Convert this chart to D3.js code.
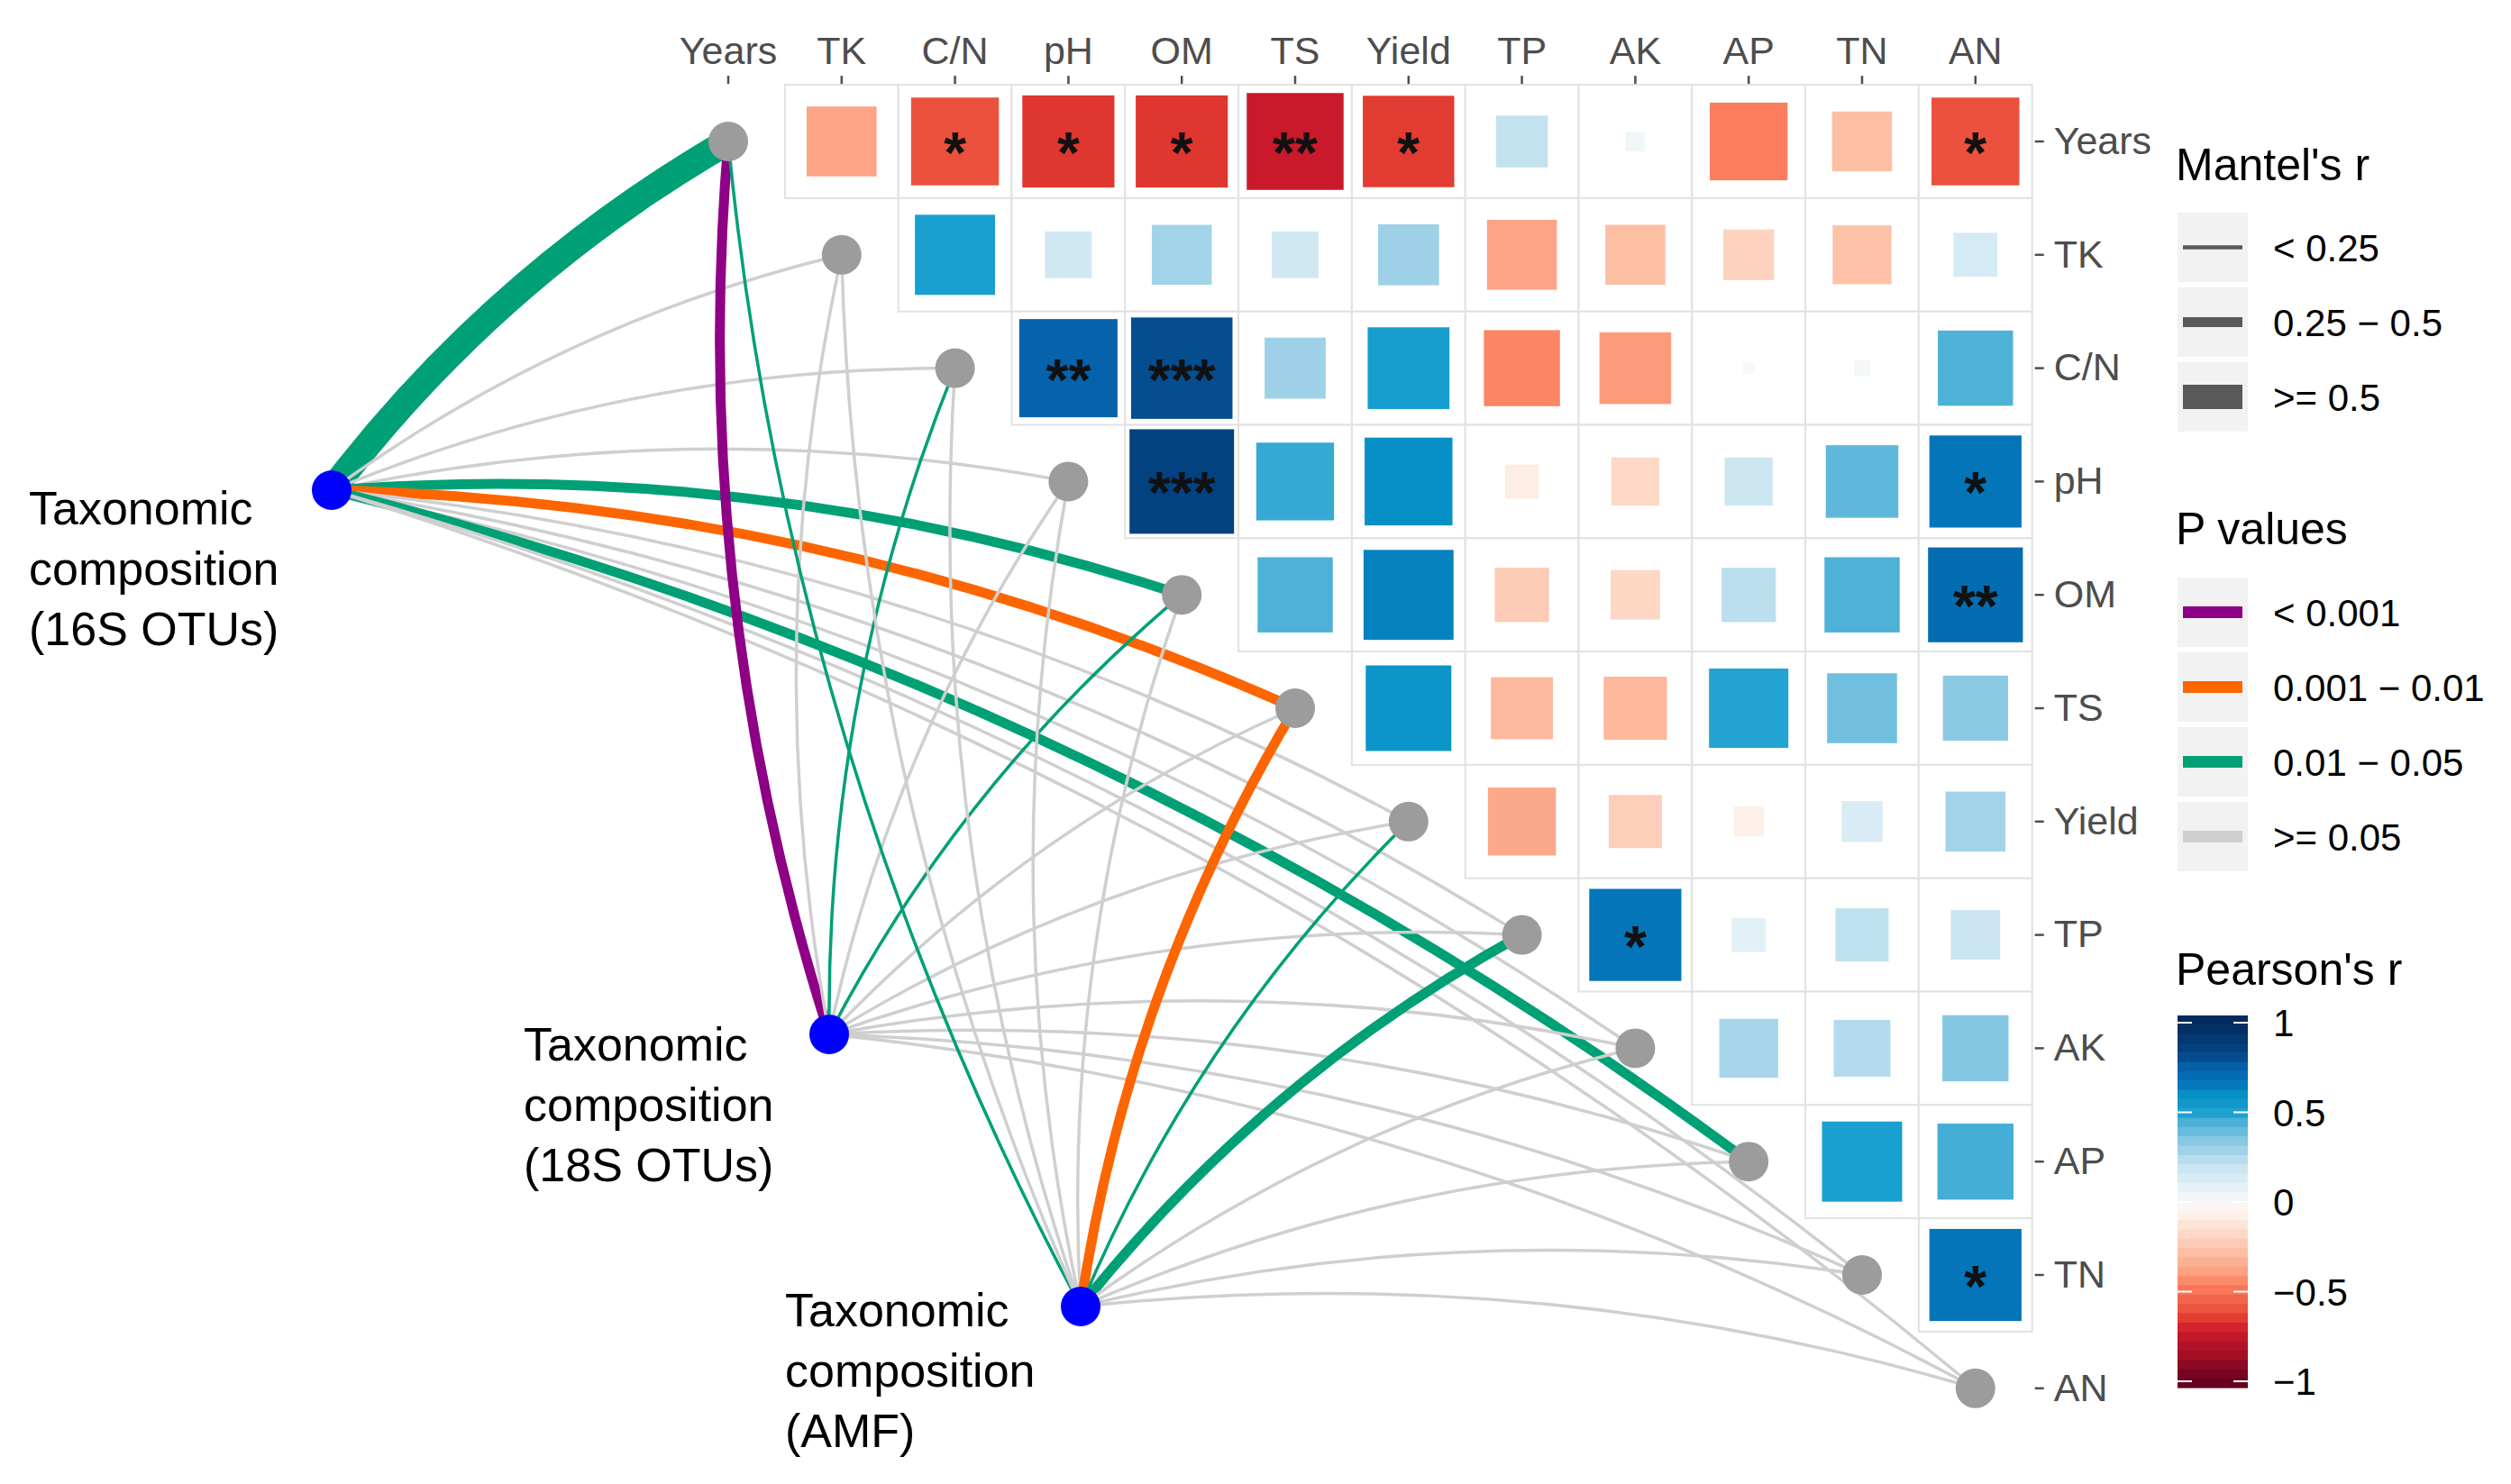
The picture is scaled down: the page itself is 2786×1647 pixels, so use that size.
<!DOCTYPE html>
<meta charset="UTF-8">
<style>
body { margin: 0; background: #fff; }
text { font-family: "Liberation Sans", Arial, sans-serif; }
.axis text { fill: #4d4d4d; font-size: 43px; }
.axis line { stroke: #4d4d4d; stroke-width: 2.5px; }
.grid rect { fill: #fff; stroke: #e2e2e2; stroke-width: 2px; }
.star { font-size: 64px; fill: #111; text-anchor: middle; font-weight: bold; }
.src-label { font-size: 52px; fill: #000; }
.leg-title { font-size: 50px; fill: #000; }
.leg-text { font-size: 42px; fill: #000; }
</style>
<body>
<script src="https://d3js.org/d3.v7.min.js"></script>
<script>

// environmental variables (rows / columns of the triangle)
var vars = ["Years", "TK", "C/N", "pH", "OM", "TS", "Yield", "TP", "AK", "AP", "TN", "AN"];

// Pearson's r, upper triangle, each row holds the columns to the right of the diagonal
var rYears = [-0.38, -0.60, -0.66, -0.66, -0.73, -0.65, 0.21, 0.03, -0.47, -0.28, -0.60];
var rTK    = [0.50, 0.17, 0.28, 0.17, 0.29, -0.38, -0.28, -0.20, -0.27, 0.15];
var rCN    = [0.75, 0.80, 0.29, 0.52, -0.45, -0.40, 0.01, 0.02, 0.44];
var rPH    = [0.85, 0.47, 0.60, -0.09, -0.18, 0.18, 0.41, 0.66];
var rOM    = [0.44, 0.63, -0.23, -0.19, 0.23, 0.44, 0.70];
var rTS    = [0.57, -0.30, -0.31, 0.49, 0.38, 0.33];
var rYield = [-0.36, -0.22, -0.07, 0.13, 0.28];
var rTP    = [0.66, 0.09, 0.22, 0.19];
var rAK    = [0.27, 0.25, 0.34];
var rAP    = [0.50, 0.45];
var rTN    = [0.66];

// significance marks for the same cells
var sigYears = ["", "*", "*", "*", "**", "*", "", "", "", "", "*"];
var sigTK    = ["", "", "", "", "", "", "", "", "", ""];
var sigCN    = ["**", "***", "", "", "", "", "", "", ""];
var sigPH    = ["***", "", "", "", "", "", "", "*"];
var sigOM    = ["", "", "", "", "", "", "**"];
var sigTS    = ["", "", "", "", "", ""];
var sigYield = ["", "", "", "", ""];
var sigTP    = ["*", "", "", ""];
var sigAK    = ["", "", ""];
var sigAP    = ["", ""];
var sigTN    = ["*"];

var corrRows = [rYears, rTK, rCN, rPH, rOM, rTS, rYield, rTP, rAK, rAP, rTN];
var sigRows  = [sigYears, sigTK, sigCN, sigPH, sigOM, sigTS, sigYield, sigTP, sigAK, sigAP, sigTN];

// Mantel tests: one value per environmental variable (same order as vars)
var mantelR16S = [0.55, 0.10, 0.12, 0.10, 0.30, 0.35, 0.10, 0.15, 0.10, 0.30, 0.10, 0.10];
var mantelP16S = [0.020, 0.30, 0.20, 0.30, 0.030, 0.005, 0.40, 0.20, 0.50, 0.040, 0.30, 0.40];
var mantelR18S = [0.40, 0.10, 0.15, 0.10, 0.20, 0.10, 0.10, 0.10, 0.10, 0.10, 0.10, 0.10];
var mantelP18S = [0.0008, 0.30, 0.030, 0.30, 0.040, 0.30, 0.50, 0.30, 0.50, 0.40, 0.60, 0.50];
var mantelRAMF = [0.20, 0.10, 0.10, 0.10, 0.10, 0.30, 0.20, 0.35, 0.10, 0.10, 0.10, 0.10];
var mantelPAMF = [0.030, 0.30, 0.40, 0.30, 0.20, 0.006, 0.040, 0.020, 0.30, 0.50, 0.40, 0.30];

var mantelR = [mantelR16S, mantelR18S, mantelRAMF];
var mantelP = [mantelP16S, mantelP18S, mantelPAMF];

var srcLines = [
  ["Taxonomic", "composition", "(16S OTUs)"],
  ["Taxonomic", "composition", "(18S OTUs)"],
  ["Taxonomic", "composition", "(AMF)"]
];

// legend texts
var mantelLabels = ["< 0.25", "0.25 \u2212 0.5", ">= 0.5"];
var pLabels = ["< 0.001", "0.001 \u2212 0.01", "0.01 \u2212 0.05", ">= 0.05"];
var cbarTicks = [1, 0.5, 0, -0.5, -1];

// ---------------- layout ----------------
var W = 2786, H = 1647;
var cell = 125.8;
var x0 = 808 - cell / 2, y0 = 157 - cell / 2;
var srcPos = [
  {x: 368, y: 544, lx: 32,  ly: 582},
  {x: 920, y: 1148, lx: 581, ly: 1177},
  {x: 1199, y: 1450, lx: 871, ly: 1472}
];

var svg = d3.select("body").append("svg")
    .attr("width", W)
    .attr("height", H);

svg.append("rect").attr("width", W).attr("height", H).attr("fill", "#fff");

var x = d3.scaleBand().domain(vars).range([x0, x0 + cell * vars.length]);
var y = d3.scaleBand().domain(vars).range([y0, y0 + cell * vars.length]);
function cx(v) { return x(v) + x.bandwidth() / 2; }
function cy(v) { return y(v) + y.bandwidth() / 2; }

// colour scale for Pearson's r
var colStops = [-1, -0.85, -0.72, -0.65, -0.58, -0.47, -0.38, -0.28, -0.18, -0.08, 0,
                0.08, 0.17, 0.22, 0.28, 0.33, 0.38, 0.44, 0.5, 0.6, 0.66, 0.75, 0.8, 0.87, 1];
var colVals = ["#67001f", "#a50f26", "#cc1a2b", "#e23b31", "#ef5a42", "#fb7d5d", "#fca485",
               "#fdbfa4", "#fdd8c7", "#feefe7", "#f9f9f9",
               "#e4f1f8", "#d0e8f3", "#c0e1ef", "#a3d3e8", "#8ccae4", "#70bfdf", "#4eb1d8",
               "#1aa0d0", "#0690c6", "#0475b8", "#0562ab", "#044d8f", "#033e7b", "#022a5c"];
var color = d3.scaleLinear().domain(colStops).range(colVals);
var side = d3.scaleSqrt().domain([0, 1]).range([0, cell]);

var widthScale = d3.scaleThreshold().domain([0.25, 0.5]).range([3.5, 11, 30]);
var pColor = d3.scaleThreshold().domain([0.001, 0.01, 0.05])
    .range(["#8e0085", "#fd6500", "#00a077", "#cfcfcf"]);

// ---------------- heatmap ----------------
var cells = [];
corrRows.forEach(function(row, i) {
  row.forEach(function(r, k) {
    cells.push({row: vars[i], col: vars[i + 1 + k], r: r, sig: sigRows[i][k]});
  });
});

svg.append("g").attr("class", "grid")
  .selectAll("rect").data(cells).join("rect")
    .attr("x", function(d) { return x(d.col); })
    .attr("y", function(d) { return y(d.row); })
    .attr("width", cell)
    .attr("height", cell);

svg.append("g")
  .selectAll("rect").data(cells).join("rect")
    .attr("x", function(d) { return cx(d.col) - side(Math.abs(d.r)) / 2; })
    .attr("y", function(d) { return cy(d.row) - side(Math.abs(d.r)) / 2; })
    .attr("width", function(d) { return side(Math.abs(d.r)); })
    .attr("height", function(d) { return side(Math.abs(d.r)); })
    .attr("fill", function(d) { return color(d.r); });

svg.append("g")
  .selectAll("text").data(cells.filter(function(d) { return d.sig; })).join("text")
    .attr("class", "star")
    .attr("x", function(d) { return cx(d.col); })
    .attr("y", function(d) { return cy(d.row) + 35; })
    .text(function(d) { return d.sig; });

// axes
var topAxis = svg.append("g").attr("class", "axis")
    .attr("transform", "translate(0," + (y0 - 1) + ")")
    .call(d3.axisTop(x).tickSize(9).tickPadding(13));
topAxis.select(".domain").remove();

var rightAxis = svg.append("g").attr("class", "axis")
    .attr("transform", "translate(" + (x0 + cell * vars.length + 3) + ",0)")
    .call(d3.axisRight(y).tickSize(10).tickPadding(11));
rightAxis.select(".domain").remove();
svg.selectAll(".axis text").style("font-size", "43px").style("font-family", "'Liberation Sans', Arial, sans-serif");

// ---------------- mantel links ----------------
function linkPath(s, t) {
  var dx = t.x - s.x, dy = t.y - s.y;
  var p = d3.path();
  p.moveTo(s.x, s.y);
  p.quadraticCurveTo((s.x + t.x) / 2 + 0.1 * dy, (s.y + t.y) / 2 - 0.1 * dx, t.x, t.y);
  return p.toString();
}

var links = [];
srcPos.forEach(function(s, si) {
  vars.forEach(function(v, vi) {
    links.push({s: s, t: {x: cx(v), y: cy(v)}, r: mantelR[si][vi], p: mantelP[si][vi]});
  });
});

svg.append("g")
  .selectAll("path").data(links).join("path")
    .attr("d", function(d) { return linkPath(d.s, d.t); })
    .attr("fill", "none")
    .attr("stroke", function(d) { return pColor(d.p); })
    .attr("stroke-width", function(d) { return widthScale(d.r); });

// env nodes
svg.append("g")
  .selectAll("circle").data(vars).join("circle")
    .attr("cx", function(v) { return cx(v); })
    .attr("cy", function(v) { return cy(v); })
    .attr("r", 22)
    .attr("fill", "#9c9c9c");

// source nodes + labels
svg.append("g")
  .selectAll("circle").data(srcPos).join("circle")
    .attr("cx", function(d) { return d.x; })
    .attr("cy", function(d) { return d.y; })
    .attr("r", 22)
    .attr("fill", "#0000ff");

srcPos.forEach(function(s, si) {
  svg.append("text").attr("class", "src-label")
    .selectAll("tspan").data(srcLines[si]).join("tspan")
      .attr("x", s.lx)
      .attr("y", function(d, i) { return s.ly + i * 67; })
      .text(function(d) { return d; });
});

// ---------------- legends ----------------
var lx = 2416, keyW = 78, keyH = 77, pitch = 83, tx = 2522;
var leg = svg.append("g");

leg.append("text").attr("class", "leg-title").attr("x", lx - 2).attr("y", 200).text("Mantel's r");
mantelLabels.forEach(function(lab, i) {
  var ky = 236 + i * pitch;
  leg.append("rect").attr("x", lx).attr("y", ky).attr("width", keyW).attr("height", keyH).attr("fill", "#f2f2f2");
  var lw = [4.5, 11, 27][i];
  leg.append("rect").attr("x", lx + 6).attr("y", ky + keyH / 2 - lw / 2)
    .attr("width", keyW - 12).attr("height", lw).attr("fill", "#595959");
  leg.append("text").attr("class", "leg-text").attr("x", tx).attr("y", ky + keyH / 2 + 15).text(lab);
});

leg.append("text").attr("class", "leg-title").attr("x", lx - 2).attr("y", 604).text("P values");
var pKeyVals = [0.0005, 0.005, 0.03, 0.2];
pLabels.forEach(function(lab, i) {
  var ky = 641 + i * pitch;
  leg.append("rect").attr("x", lx).attr("y", ky).attr("width", keyW).attr("height", keyH).attr("fill", "#f2f2f2");
  leg.append("rect").attr("x", lx + 6).attr("y", ky + keyH / 2 - 6.5)
    .attr("width", keyW - 12).attr("height", 13).attr("fill", pColor(pKeyVals[i]));
  leg.append("text").attr("class", "leg-text").attr("x", tx).attr("y", ky + keyH / 2 + 15).text(lab);
});

leg.append("text").attr("class", "leg-title").attr("x", lx - 2).attr("y", 1093).text("Pearson's r");
var cb = d3.scaleLinear().domain([-1, 1]).range([1533, 1135]);
var nb = 40, cbTop = 1127, cbBot = 1540, bh = (cbBot - cbTop) / nb;
d3.range(nb).forEach(function(k) {
  var yy = cbTop + k * bh;
  var v = Math.max(-1, Math.min(1, cb.invert(yy + bh / 2)));
  leg.append("rect").attr("x", lx).attr("y", yy).attr("width", keyW).attr("height", bh + 0.6)
    .attr("fill", color(v));
});
cbarTicks.forEach(function(t) {
  leg.append("line").attr("x1", lx).attr("x2", lx + 16).attr("y1", cb(t)).attr("y2", cb(t))
    .attr("stroke", "#fff").attr("stroke-width", 2);
  leg.append("line").attr("x1", lx + keyW - 16).attr("x2", lx + keyW).attr("y1", cb(t)).attr("y2", cb(t))
    .attr("stroke", "#fff").attr("stroke-width", 2);
  leg.append("text").attr("class", "leg-text").attr("x", tx).attr("y", cb(t) + 15)
    .text(t < 0 ? "\u2212" + Math.abs(t) : String(t));
});

</script>
</body>
